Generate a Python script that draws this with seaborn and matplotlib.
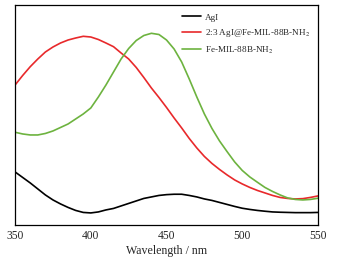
import numpy as np
import pandas as pd
import matplotlib
matplotlib.use("Agg")
import matplotlib.pyplot as plt
import seaborn as sns

# 資料 (由圖估讀, 任意單位)
wavelength = list(range(350, 551, 5))
agi = [53, 47.5, 42, 36, 30, 25, 21, 17.5, 14.5, 12.5, 12,
       13, 15, 16.5, 19, 21.5, 24, 26.5, 28, 29.5, 30.3,
       30.7, 30.7, 29.5, 28, 26, 24.5, 22.5, 20.5, 18.5, 16.7,
       15.5, 14.5, 13.7, 13, 12.7, 12.5, 12.3, 12.3, 12.3, 12.5]
composite = [140, 149.5, 158.3, 166, 173, 178, 182, 185, 187, 188.7, 188,
             185.5, 182, 178.3, 172, 166, 157.5, 147.5, 137, 127.5, 117.5,
             107, 97, 86.5, 77, 68.5, 61.5, 55.5, 50, 45, 41,
             37.5, 34.5, 32, 29.5, 27.5, 26.5, 26, 26.3, 27.5, 29]
mof = [92.7, 91, 90, 90, 91.5, 94, 97.5, 101, 106, 111, 117,
       128, 140, 153, 166, 176.5, 184.5, 189.5, 191.7, 190.5, 185,
       176, 163, 146, 128, 111, 96.5, 84, 73.3, 63, 54.5,
       48, 42.7, 37.5, 33.5, 30, 27, 25.5, 25, 25.5, 26.7]

series_names = ["AgI", "2:3 AgI@Fe-MIL-88B-NH$_2$", "Fe-MIL-88B-NH$_2$"]
series_colors = ["#000000", "#e8292b", "#6db33f"]

df = pd.concat([
    pd.DataFrame({"wl": wavelength, "abs": agi, "s": series_names[0]}),
    pd.DataFrame({"wl": wavelength, "abs": composite, "s": series_names[1]}),
    pd.DataFrame({"wl": wavelength, "abs": mof, "s": series_names[2]}),
])

sns.set_style("white")
plt.rcParams["font.family"] = ["Liberation Serif", "DejaVu Serif"]
plt.rcParams["mathtext.fontset"] = "stix"

fig = plt.figure(figsize=(3.43, 2.64), dpi=100)
ax = fig.add_axes([0.044, 0.148, 0.883, 0.833])

sns.lineplot(data=df, x="wl", y="abs", hue="s", palette=series_colors,
             linewidth=1.2, ax=ax)

ax.set_xlim(350, 550)
ax.set_ylim(0, 220)
ax.set_xticks([350, 400, 450, 500, 550])
ax.set_xticks([375, 425, 475, 525], minor=True)
ax.set_yticks([])
ax.tick_params(axis="x", which="major", direction="in", length=3, width=0.8,
               labelsize=8.3, pad=4)
ax.tick_params(axis="x", which="minor", direction="in", length=2, width=0.8)
ax.set_xlabel("Wavelength / nm", fontsize=8.6, labelpad=2)
ax.set_ylabel("")
for sp in ax.spines.values():
    sp.set_color("black")
    sp.set_linewidth(0.9)

ax.legend(loc="upper right", bbox_to_anchor=(1.0, 1.0), frameon=False,
          fontsize=6.6, handlelength=2.1, handletextpad=0.4,
          labelspacing=0.6, borderaxespad=0.5)

fig.savefig("out.png", dpi=100)
